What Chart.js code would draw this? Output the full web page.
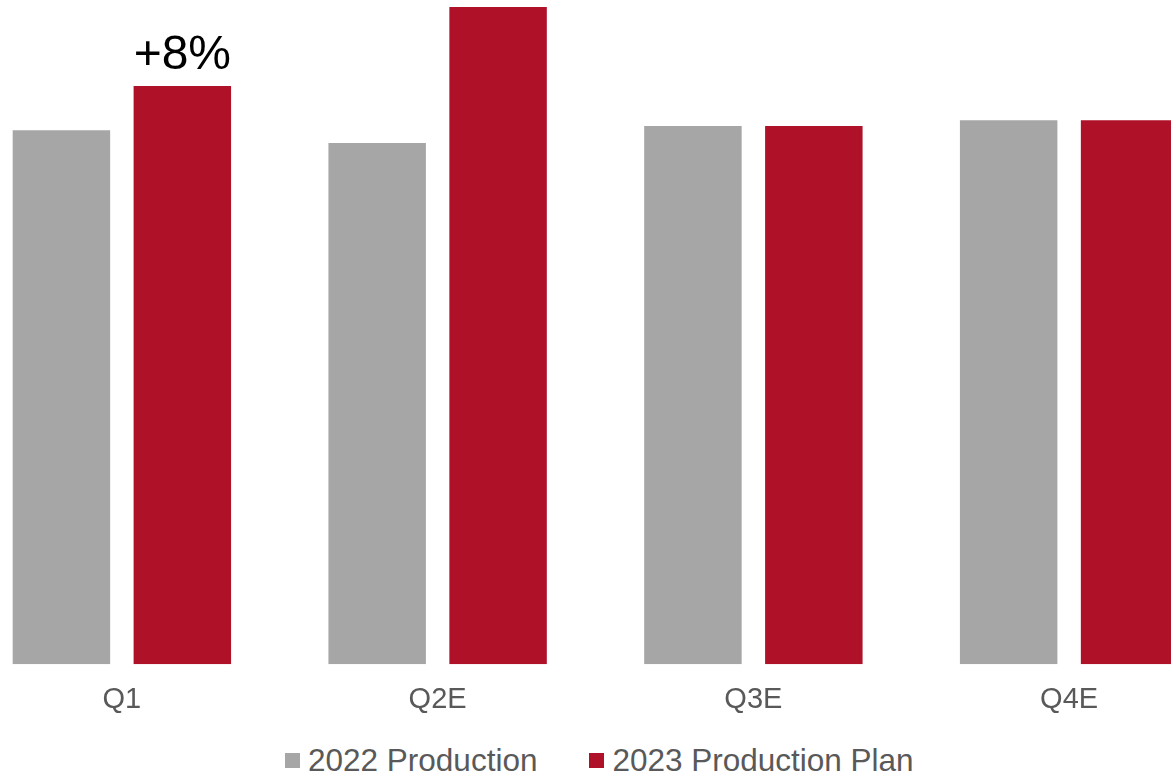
<!DOCTYPE html>
<html>
<head>
<meta charset="utf-8">
<script src="https://cdn.jsdelivr.net/npm/chart.js@4/dist/chart.umd.min.js"></script>
<style>
    html, body { margin: 0; padding: 0; background: #fff; overflow: hidden; }
    body { width: 1171px; height: 776px; position: relative; font-family: "Liberation Sans", Arial, sans-serif; }
    #wrap { position: absolute; left: -36px; top: 0; width: 1263px; height: 735px; }
    #legend { position: absolute; left: 285px; top: 745px; display: flex; align-items: center; font-size: 31.5px; line-height: 31px; color: #595959; white-space: nowrap; }
    .box { width: 15px; height: 15px; margin-right: 8px; }
    .item { display: flex; align-items: center; margin-right: 52px; }
</style>
</head>
<body>
<div id="wrap"><canvas id="chart"></canvas></div>
<div id="legend"></div>
<script>
// chart data
const quarters = ['Q1', 'Q2E', 'Q3E', 'Q4E'];
const production2022 = [100, 97.6, 100.8, 101.9];
const plan2023 = [108.3, 123.1, 100.8, 101.9];
const seriesNames = ['2022 Production', '2023 Production Plan'];
const seriesColors = ['#A6A6A6', '#AF1228'];
const callouts = ['+8%', '', '', ''];   // labels over the 2023 bars

// draws the "+8%" text over the red bar
const calloutPlugin = {
    id: 'callouts',
    afterDatasetsDraw(chart) {
        const ctx = chart.ctx;
        const meta = chart.getDatasetMeta(1);
        ctx.save();
        ctx.font = '48px "Liberation Sans", Arial, sans-serif';
        ctx.fillStyle = '#000';
        ctx.textAlign = 'center';
        ctx.textBaseline = 'alphabetic';
        meta.data.forEach((bar, i) => {
            if (callouts[i]) ctx.fillText(callouts[i], bar.x, bar.y - 17);
        });
        ctx.restore();
    }
};

const ctx = document.getElementById('chart').getContext('2d');
new Chart(ctx, {
    type: 'bar',
    data: {
        labels: quarters,
        datasets: [
            { label: seriesNames[0], data: production2022, backgroundColor: seriesColors[0] },
            { label: seriesNames[1], data: plan2023, backgroundColor: seriesColors[1] }
        ]
    },
    options: {
        responsive: true,
        maintainAspectRatio: false,
        animation: false,
        categoryPercentage: 0.766,
        barPercentage: 0.806,
        layout: { padding: 0 },
        plugins: {
            legend: { display: false },
            tooltip: { enabled: false }
        },
        scales: {
            x: {
                grid: { display: false, drawTicks: false },
                border: { display: false },
                ticks: {
                    color: '#595959',
                    padding: 18,
                    font: { family: '"Liberation Sans", Arial, sans-serif', size: 29 }
                }
            },
            y: {
                display: false,
                min: 0,
                max: 124.4
            }
        }
    },
    plugins: [calloutPlugin]
});

// legend
const legend = document.getElementById('legend');
seriesNames.forEach((name, i) => {
    const item = document.createElement('div');
    item.className = 'item';
    item.innerHTML = `<span class="box" style="background:${seriesColors[i]}"></span><span>${name}</span>`;
    legend.appendChild(item);
});
</script>
</body>
</html>
